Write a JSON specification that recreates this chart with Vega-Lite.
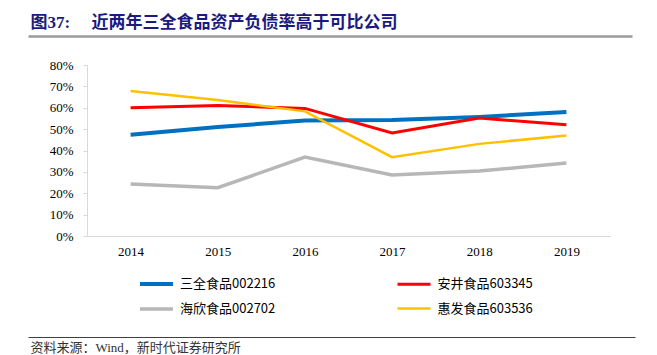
{
  "$schema": "https://vega.github.io/schema/vega-lite/v6.json",
  "width": 523,
  "height": 171,
  "autosize": {"type": "none"},
  "padding": {"left": 87, "top": 65, "right": 47, "bottom": 119},
  "background": "white",
  "config": {"view": {"stroke": null}},
  "data": {
    "values": [
      {"year": "2014", "company": "三全食品002216", "value": 0.474},
      {"year": "2015", "company": "三全食品002216", "value": 0.510},
      {"year": "2016", "company": "三全食品002216", "value": 0.540},
      {"year": "2017", "company": "三全食品002216", "value": 0.543},
      {"year": "2018", "company": "三全食品002216", "value": 0.557},
      {"year": "2019", "company": "三全食品002216", "value": 0.580},
      {"year": "2014", "company": "安井食品603345", "value": 0.600},
      {"year": "2015", "company": "安井食品603345", "value": 0.610},
      {"year": "2016", "company": "安井食品603345", "value": 0.597},
      {"year": "2017", "company": "安井食品603345", "value": 0.482},
      {"year": "2018", "company": "安井食品603345", "value": 0.552},
      {"year": "2019", "company": "安井食品603345", "value": 0.520},
      {"year": "2014", "company": "海欣食品002702", "value": 0.243},
      {"year": "2015", "company": "海欣食品002702", "value": 0.226},
      {"year": "2016", "company": "海欣食品002702", "value": 0.369},
      {"year": "2017", "company": "海欣食品002702", "value": 0.285},
      {"year": "2018", "company": "海欣食品002702", "value": 0.304},
      {"year": "2019", "company": "海欣食品002702", "value": 0.341},
      {"year": "2014", "company": "惠发食品603536", "value": 0.678},
      {"year": "2015", "company": "惠发食品603536", "value": 0.636},
      {"year": "2016", "company": "惠发食品603536", "value": 0.583},
      {"year": "2017", "company": "惠发食品603536", "value": 0.369},
      {"year": "2018", "company": "惠发食品603536", "value": 0.431},
      {"year": "2019", "company": "惠发食品603536", "value": 0.470}
    ]
  },
  "resolve": {"scale": {"x": "independent"}, "axis": {"x": "independent"}},
  "layer": [
    {
      "mark": {"type": "point", "opacity": 0},
      "encoding": {
        "x": {
          "field": "value", "type": "quantitative",
          "scale": {"range": [-59, 545], "zero": false},
          "axis": {
            "orient": "top", "offset": 29, "domainColor": "#9a9a9a", "domainWidth": 2.5,
            "ticks": false, "labels": false, "grid": false,
            "title": "图37:\u00a0\u00a0\u00a0\u00a0\u00a0近两年三全食品资产负债率高于可比公司",
            "titleX": -57, "titleY": -14, "titleAlign": "left", "titleBaseline": "middle",
            "titleFont": "Liberation Serif, Noto Sans CJK SC", "titleFontSize": 17,
            "titleFontWeight": "bold", "titleColor": "#1a1a80"
          }
        }
      }
    },
    {
      "mark": {"type": "point", "opacity": 0},
      "encoding": {
        "x": {
          "field": "value", "type": "quantitative",
          "scale": {"range": [-59, 548], "zero": false},
          "axis": {
            "orient": "bottom", "offset": 101, "domainColor": "#404040", "domainWidth": 1,
            "ticks": false, "labels": false, "grid": false,
            "title": "资料来源：Wind，新时代证券研究所",
            "titleX": -57, "titleY": 10, "titleAlign": "left", "titleBaseline": "middle",
            "titleFont": "Liberation Serif, Noto Sans CJK SC", "titleFontSize": 13,
            "titleFontWeight": "normal", "titleColor": "#333333"
          }
        }
      }
    },
    {
      "mark": {"type": "line"},
      "encoding": {
        "x": {
          "field": "year", "type": "ordinal",
          "scale": {"padding": 0.5},
          "axis": {
            "title": null, "labelAngle": 0, "labelFont": "Liberation Serif", "labelFontSize": 13,
            "labelColor": "#000000", "ticks": false, "domainColor": "#d9d9d9", "labelPadding": 9, "grid": false
          }
        },
        "y": {
          "field": "value", "type": "quantitative",
          "scale": {"domain": [0, 0.8]},
          "axis": {
            "title": null, "values": [0, 0.1, 0.2, 0.3, 0.4, 0.5, 0.6, 0.7, 0.8], "format": ".0%",
            "grid": false, "domainColor": "#d9d9d9", "tickColor": "#d9d9d9", "tickSize": 4,
            "labelPadding": 10, "labelFont": "Liberation Serif", "labelFontSize": 13, "labelColor": "#000000"
          }
        },
        "color": {
          "field": "company", "type": "nominal",
          "scale": {
            "domain": ["三全食品002216", "海欣食品002702", "安井食品603345", "惠发食品603536"],
            "range": ["#0070C0", "#B7B7B7", "#FF0000", "#FFC000"]
          },
          "legend": {
            "title": null, "orient": "none", "legendX": 56.5, "legendY": 206, "columns": 2,
            "columnPadding": 115.5, "rowPadding": 4, "symbolType": "M-1.5,0H1.5", "symbolSize": 484,
            "symbolStrokeWidth": 3, "labelFont": "Noto Sans CJK SC", "labelFontSize": 13,
            "labelColor": "#000000", "labelOffset": 10.5
          }
        },
        "strokeWidth": {
          "field": "company", "type": "ordinal",
          "scale": {
            "domain": ["三全食品002216", "海欣食品002702", "安井食品603345", "惠发食品603536"],
            "range": [4, 2.5, 4, 2]
          },
          "legend": null
        }
      }
    }
  ]
}
